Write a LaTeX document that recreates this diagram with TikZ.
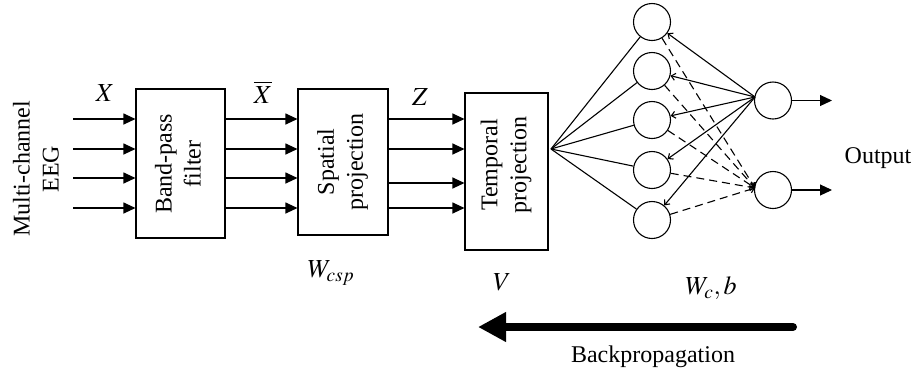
\documentclass[tikz,border=0pt]{standalone}
\usepackage{mathptmx}
\usepackage{fontspec}
\setmainfont{Liberation Serif}
\usetikzlibrary{arrows.meta}
\tikzstyle{lbl}=[font=\fontsize{24}{29}\selectfont,inner sep=0pt]
\tikzstyle{mlbl}=[font=\fontsize{26}{30}\selectfont,inner sep=0pt]
\tikzstyle{block}=[draw,line width=1.1pt,inner sep=0pt]
\tikzstyle{neuron}=[circle,draw,line width=1.1pt,minimum size=37pt,inner sep=0pt]
\tikzstyle{sig}=[line width=1.1pt,-{Triangle[length=12pt,width=11pt]}]
\tikzstyle{wire}=[line width=1.1pt]
\tikzstyle{wireb}=[line width=1.1pt,-{Straight Barb[length=4pt,width=7pt]}]
\tikzstyle{backarrow}=[line width=8pt,line cap=round,-{Triangle[length=28pt,width=28pt]}]

\begin{document}
\begin{tikzpicture}[x=1pt,y=-1pt]
    \useasboundingbox (0,0) rectangle (913,376);
    % blocks
    \node[block,minimum width=89pt,minimum height=149pt] (bp) at (180.5,163.5) {};
    \node[block,minimum width=90pt,minimum height=146pt] (sp) at (343,162) {};
    \node[block,minimum width=83pt,minimum height=157pt] (tp) at (506.5,171.5) {};
    \node[lbl,rotate=90,align=center] (bpt) at (178,164) {Band-pass\\filter};
    \node[lbl,rotate=90,align=center] (spt) at (342.5,162) {Spatial\\projection};
    \node[lbl,rotate=90,align=center] (tpt) at (506,165) {Temporal\\projection};
    \node[lbl,rotate=90,align=center] (eeg) at (36,169) {Multi-channel\\EEG};

    % labels
    \node[mlbl] (lx) at (105,93) {$X$};
    \node[mlbl] (lxb) at (263,92) {$\overline{X}$};
    \node[mlbl] (lz) at (420,97) {$Z$};
    \node[mlbl] (lw) at (331,273) {$W_{csp}$};
    \node[mlbl] (lv) at (502,282) {$V$};
    \node[mlbl] (lwc) at (711,288) {$W_c,b$};
    \node[lbl] (lout) at (878,158) {Output};
    \node[lbl] (lbp) at (653,357) {Backpropagation};

    % signals
    \foreach \i/\y in {1/119,2/149,3/178,4/208}
    {
        \coordinate (in\i) at (73,\y);
        \draw[sig] (in\i) -- (in\i -| bp.west);
        \draw[sig] (bp.east |- in\i) -- (sp.west |- in\i);
    }
    \foreach \y in {119,149,183,208}
    \draw[sig] (sp.east |- 0,\y) -- (tp.west |- 0,\y);

    % network
    \foreach \i/\y in {1/22,2/71,3/120,4/170,5/220}
    \node[neuron] (h\i) at (652,\y) {};
    \node[neuron] (o1) at (773,100.5) {};
    \node[neuron] (o2) at (773,190) {};
    \coordinate (tpo) at (551,149);
    \coordinate (o1in) at (755,97);
    \coordinate (o2in) at (755,188);
    \coordinate (y1) at (832,100.5);
    \coordinate (y2) at (832,190);

    \foreach \to in {h1,h2,h3,h4,h5}
    \draw[wire] (tpo) -- (\to);
    \foreach \to in {h1,h2,h3,h4,h5}
    \draw[wireb] (o1in) -- (\to);
    \foreach \from in {h1,h2,h3,h4,h5}
    \draw[wireb,dash pattern=on 8pt off 5pt] (\from) -- (o2in);
    \draw[sig] (o1) -- (y1);
    \draw[sig] (o2) -- (y2);

    % backpropagation
    \coordinate (bs) at (793,327);
    \coordinate (be) at (478,327);
    \draw[backarrow] (bs) -- (be);
\end{tikzpicture}
\end{document}
